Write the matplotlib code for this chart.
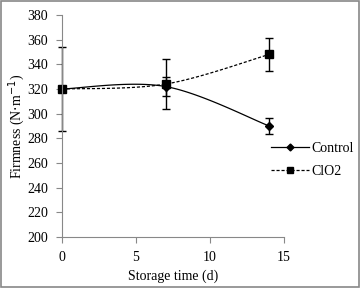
import numpy as np
import matplotlib
matplotlib.use('Agg')
import matplotlib.pyplot as plt

plt.rcParams['font.family'] = ['Liberation Serif', 'DejaVu Serif']
plt.rcParams['font.size'] = 10

days = [0, 7, 14]
control = [320, 322, 290]
control_err = [0, 8, 6.5]
clo2 = [320, 324, 348]
clo2_err = [34, 20, 13.5]


def smooth(x, y, n=40):
    # Catmull-Rom style smoothing, similar to Excel's smoothed line
    x = np.asarray(x, float)
    y = np.asarray(y, float)
    px = np.concatenate([[x[0]], x, [x[-1]]])
    py = np.concatenate([[y[0]], y, [y[-1]]])
    t = np.linspace(0, 1, n)[:, None]
    out_x, out_y = [], []
    for i in range(1, len(px) - 2):
        b0 = np.array([px[i], py[i]])
        b3 = np.array([px[i + 1], py[i + 1]])
        b1 = b0 + (np.array([px[i + 1], py[i + 1]]) - np.array([px[i - 1], py[i - 1]])) / 6
        b2 = b3 - (np.array([px[i + 2], py[i + 2]]) - np.array([px[i], py[i]])) / 6
        pts = ((1 - t) ** 3) * b0 + 3 * ((1 - t) ** 2) * t * b1 + 3 * (1 - t) * t ** 2 * b2 + t ** 3 * b3
        out_x.extend(pts[:, 0])
        out_y.extend(pts[:, 1])
    return out_x, out_y


fig = plt.figure(figsize=(3.6, 2.88), dpi=100)
ax = fig.add_axes([0.172, 0.177, 0.617, 0.771])

sx, sy = smooth(days, control)
ax.plot(sx, sy, color='black', lw=0.9)
sx, sy = smooth(days, clo2)
ax.plot(sx, sy, color='black', lw=0.9, dashes=(2.5, 1.5))

ax.errorbar(days, control, yerr=control_err, fmt='D', color='black', ms=3.8,
            capsize=3, elinewidth=1, capthick=1, clip_on=False)
ax.errorbar(days, clo2, yerr=clo2_err, fmt='s', color='black', ms=5.5,
            capsize=3, elinewidth=1, capthick=1, clip_on=False)

ax.set_xlim(0, 15)
ax.set_ylim(200, 380)
ax.set_xticks([0, 5, 10, 15])
ax.set_yticks(range(200, 381, 20))
for s in ('top', 'right'):
    ax.spines[s].set_visible(False)
for s in ('left', 'bottom'):
    ax.spines[s].set_color('#888888')
ax.tick_params(direction='out', length=4, color='#888888', pad=6)
ax.set_xlabel('Storage time (d)', labelpad=4)
ax.set_ylabel('Firmness (N$\\cdot$m$^{-1}$)', labelpad=0)

h1, = ax.plot([], [], '-D', color='black', ms=3.5, lw=0.9)
h2, = ax.plot([], [], 's', color='black', ms=5, lw=0.9, ls='--', dashes=(2.5, 1.5))
fig.legend([h1, h2], ['Control', 'ClO2'], loc='center left',
           bbox_to_anchor=(0.718, 0.445), frameon=False, handlelength=2.75,
           handletextpad=0.15, labelspacing=0.7, fontsize=10)

fig.patches.append(plt.Rectangle((0.002, 0.003), 0.995, 0.994, transform=fig.transFigure,
                                 fill=False, edgecolor='#888888', lw=1.2))

fig.savefig('out.png', dpi=100)
